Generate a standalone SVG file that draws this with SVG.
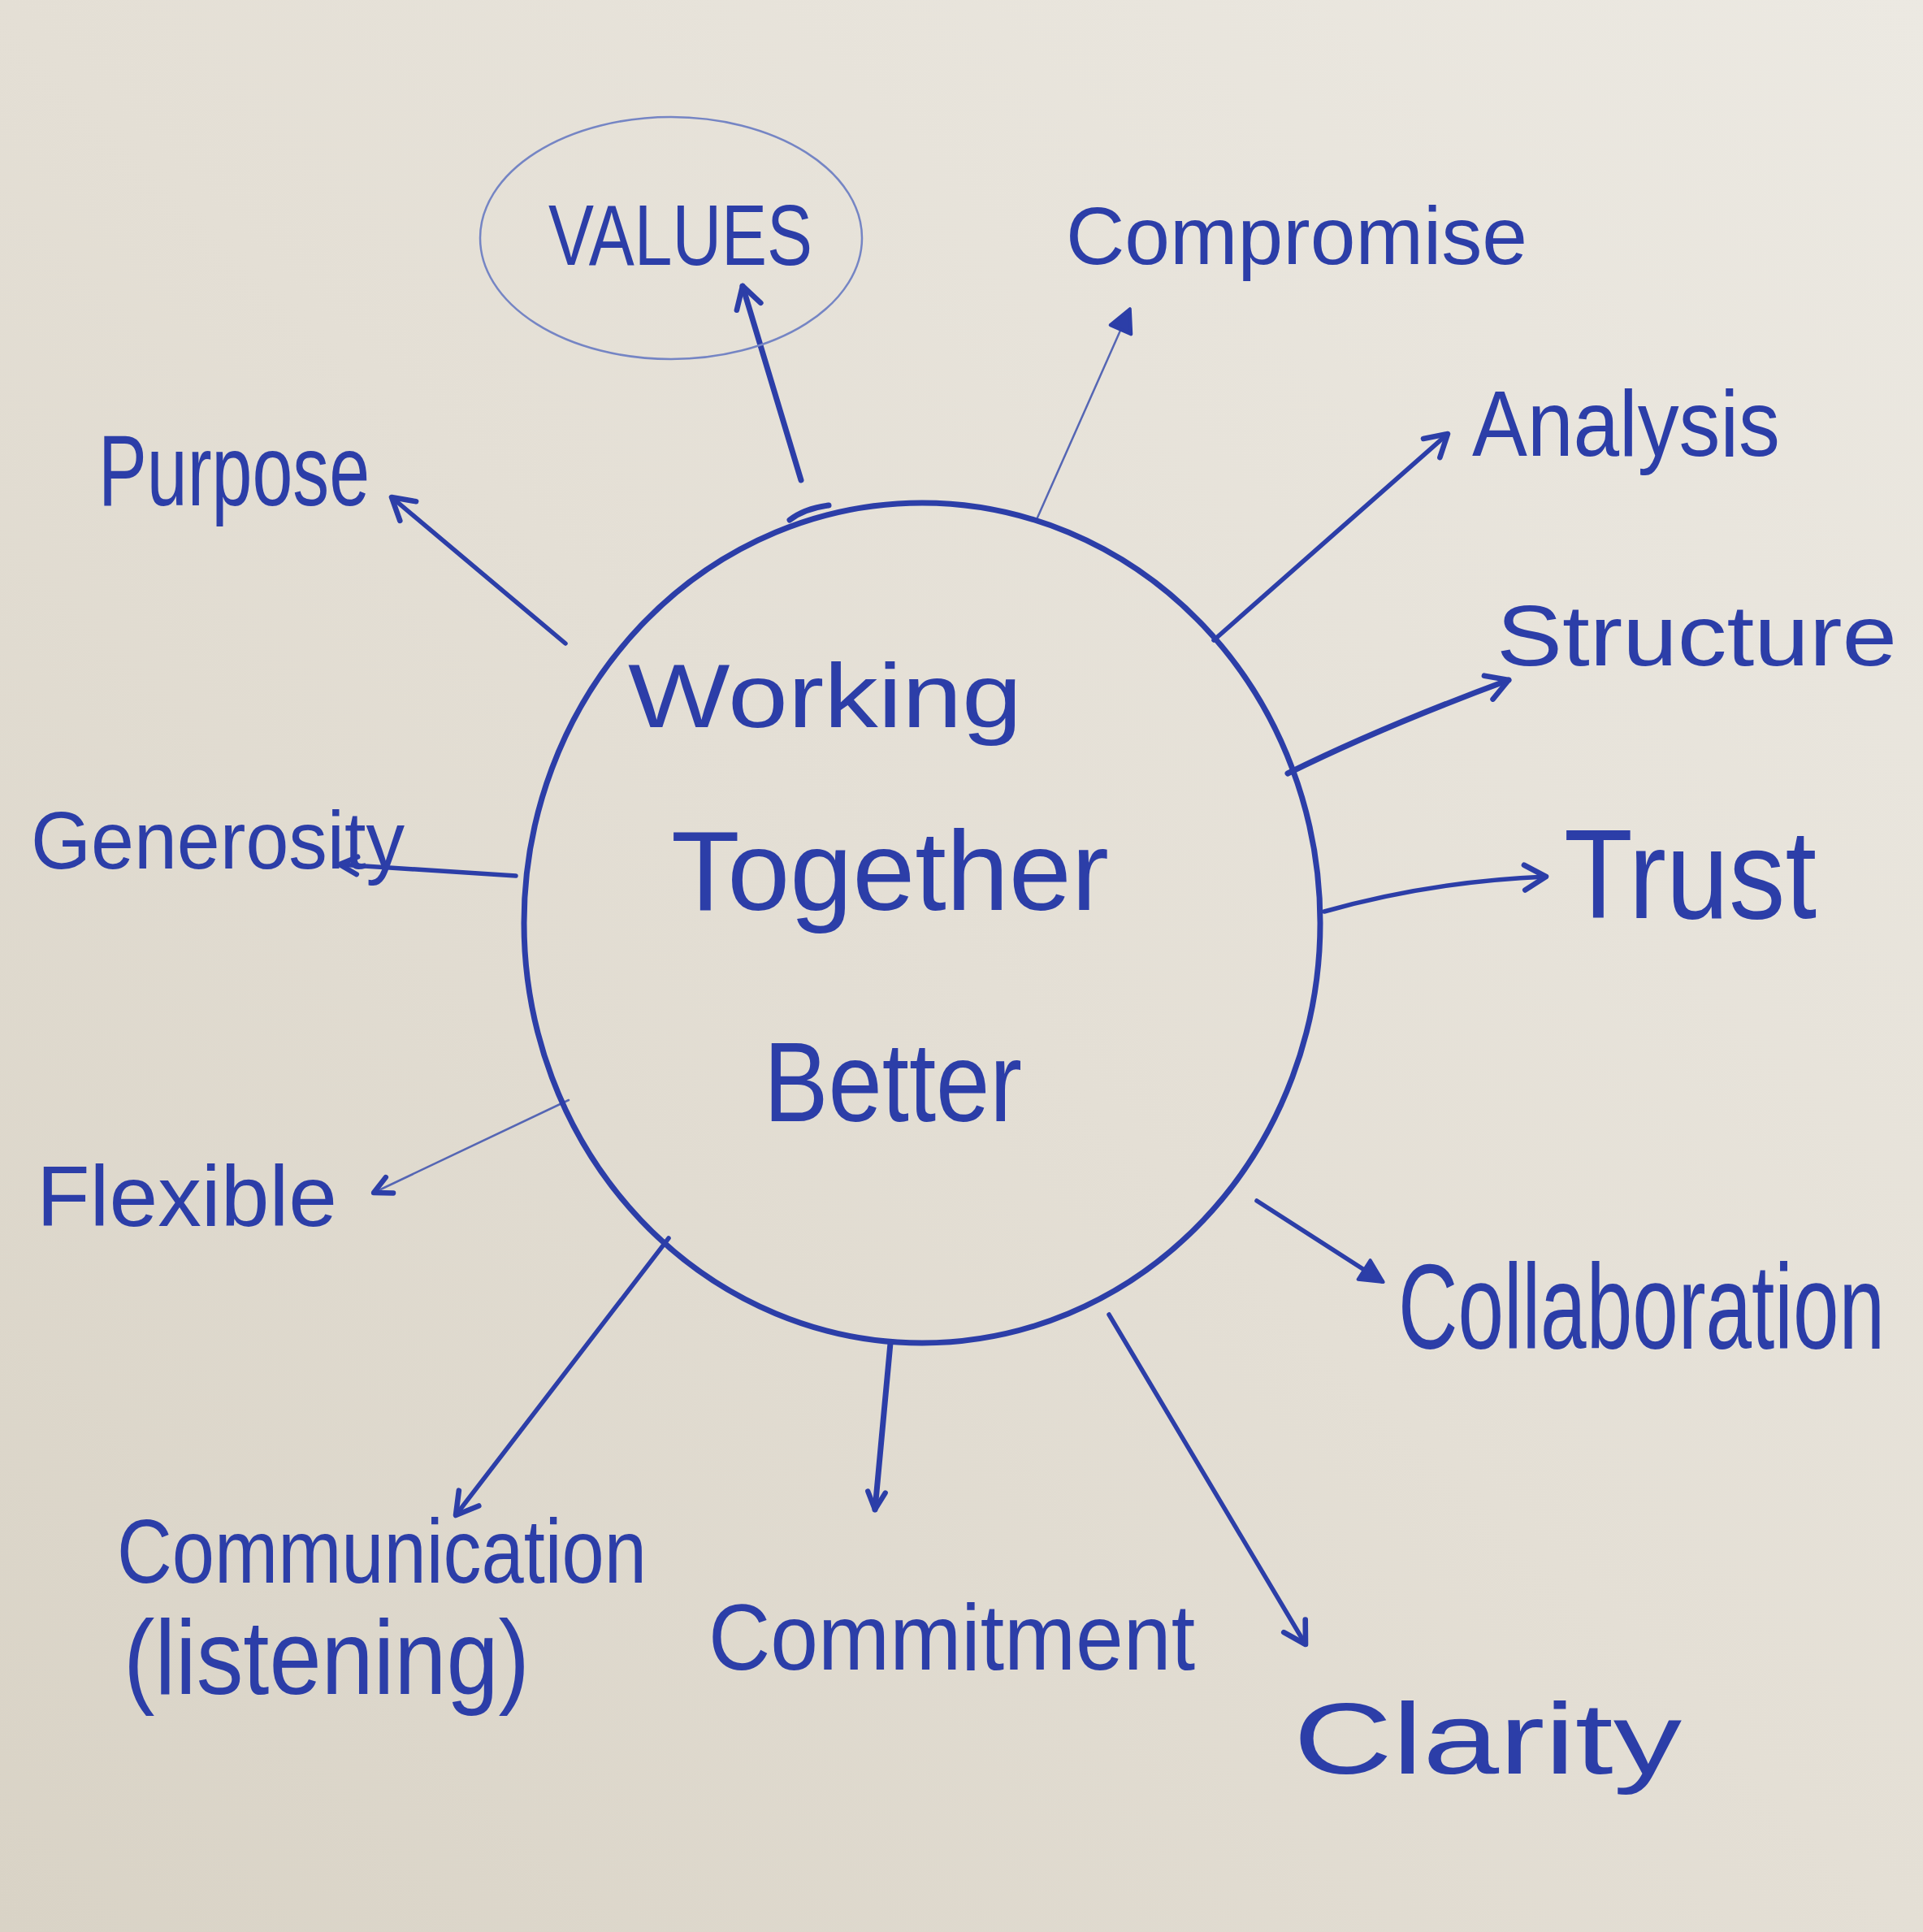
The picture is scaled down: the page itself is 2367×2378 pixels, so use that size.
<svg xmlns="http://www.w3.org/2000/svg" width="2367" height="2378" viewBox="0 0 2367 2378">
<defs>
<linearGradient id="paper" x1="1" y1="0" x2="0" y2="1">
<stop offset="0" stop-color="#ece9e2"/>
<stop offset="0.5" stop-color="#e4dfd5"/>
<stop offset="1" stop-color="#d9d3c6"/>
</linearGradient>
<marker id="head" viewBox="0 0 20 20" refX="16" refY="10" markerWidth="44" markerHeight="44" markerUnits="userSpaceOnUse" orient="auto">
<path d="M4,3 L16,10 L4,17" fill="none" stroke="#2c3ea8" stroke-width="3" stroke-linecap="round" stroke-linejoin="round"/>
</marker>
<marker id="headthin" viewBox="0 0 20 20" refX="16" refY="10" markerWidth="36" markerHeight="36" markerUnits="userSpaceOnUse" orient="auto">
<path d="M4,4 L16,10 L4,16" fill="none" stroke="#2c3ea8" stroke-width="3.5" stroke-linecap="round" stroke-linejoin="round"/>
</marker>
<marker id="headfill" viewBox="0 0 20 20" refX="16" refY="10" markerWidth="40" markerHeight="40" markerUnits="userSpaceOnUse" orient="auto">
<path d="M3,3 L17,10 L3,17 Z" fill="#2c3ea8" stroke="#2c3ea8" stroke-width="2" stroke-linejoin="round"/>
</marker>
</defs>
<style>
.ink{fill:none;stroke:#2c3ea8;stroke-linecap:round;stroke-linejoin:round}
.thick{stroke-width:7}
.mid{stroke-width:5.5}
.thin{stroke-width:2.5;stroke:#5566b4}
.lbl{fill:#2c3ea8;font-family:"Liberation Sans","DejaVu Sans",sans-serif}
</style>
<rect x="0" y="0" width="2367" height="2378" fill="url(#paper)"/>

<g id="connectors">
<path class="ink thick" d="M986,591 L914,352" marker-end="url(#head)"/>
<path class="ink thin" d="M1277,637 L1390,382" marker-end="url(#headfill)"/>
<path class="ink mid" d="M1494,788 L1782,534" marker-end="url(#head)"/>
<path class="ink thick" d="M1585,952 Q1700,895 1857,837" marker-end="url(#head)"/>
<path class="ink mid" d="M1630,1122 Q1760,1085 1903,1079" marker-end="url(#head)"/>
<path class="ink mid" d="M1547,1478 L1701,1577" marker-end="url(#headfill)"/>
<path class="ink mid" d="M1365,1618 L1607,2024" marker-end="url(#head)"/>
<path class="ink thick" d="M1096,1653 L1077,1858" marker-end="url(#headthin)"/>
<path class="ink mid" d="M823,1524 L561,1865" marker-end="url(#head)"/>
<path class="ink thin" d="M700,1354 L460,1468" marker-end="url(#headthin)"/>
<path class="ink mid" d="M635,1078 L418,1064" marker-end="url(#headthin)"/>
<path class="ink mid" d="M696,792 L482,612" marker-end="url(#head)"/>
</g>

<g id="node-center">
<ellipse class="ink thick" cx="1135" cy="1136" rx="490" ry="517"/>
<path class="ink thick" d="M972,640 Q990,626 1020,622"/>
<text class="lbl" x="773" y="895" font-size="112" textLength="485" lengthAdjust="spacingAndGlyphs">Working</text>
<text class="lbl" x="826" y="1120" font-size="140" textLength="539" lengthAdjust="spacingAndGlyphs">Together</text>
<text class="lbl" x="940" y="1380" font-size="140" textLength="318" lengthAdjust="spacingAndGlyphs">Better</text>
</g>

<g id="node-values">
<ellipse cx="826" cy="293" rx="235" ry="149" fill="none" stroke="#7585c4" stroke-width="2.5"/>
<text class="lbl" x="675" y="326" font-size="105" textLength="325" lengthAdjust="spacingAndGlyphs">VALUES</text>
</g>
<g id="node-compromise">
<text class="lbl" x="1312" y="325" font-size="100" textLength="568" lengthAdjust="spacingAndGlyphs">Compromise</text>
</g>
<g id="node-analysis">
<text class="lbl" x="1812" y="561" font-size="115" textLength="379" lengthAdjust="spacingAndGlyphs">Analysis</text>
</g>
<g id="node-structure">
<text class="lbl" x="1842" y="819" font-size="105" textLength="493" lengthAdjust="spacingAndGlyphs">Structure</text>
</g>
<g id="node-trust">
<text class="lbl" x="1925" y="1130" font-size="155" textLength="311" lengthAdjust="spacingAndGlyphs">Trust</text>
</g>
<g id="node-collaboration">
<text class="lbl" transform="translate(1721,1660) scale(1,1.38)" x="0" y="0" font-size="108" textLength="599" lengthAdjust="spacingAndGlyphs">Collaboration</text>
</g>
<g id="node-clarity">
<text class="lbl" x="1592" y="2183" font-size="125" textLength="478" lengthAdjust="spacingAndGlyphs">Clarity</text>
</g>
<g id="node-commitment">
<text class="lbl" x="872" y="2055" font-size="115" textLength="599" lengthAdjust="spacingAndGlyphs">Commitment</text>
</g>
<g id="node-communication">
<text class="lbl" x="144" y="1948" font-size="112" textLength="652" lengthAdjust="spacingAndGlyphs">Communication</text>
<text class="lbl" x="152" y="2085" font-size="130" textLength="500" lengthAdjust="spacingAndGlyphs">(listening)</text>
</g>
<g id="node-flexible">
<text class="lbl" x="45" y="1509" font-size="105" textLength="370" lengthAdjust="spacingAndGlyphs">Flexible</text>
</g>
<g id="node-generosity">
<text class="lbl" x="38" y="1069" font-size="100" textLength="460" lengthAdjust="spacingAndGlyphs">Generosity</text>
</g>
<g id="node-purpose">
<text class="lbl" x="121" y="622" font-size="125" textLength="334" lengthAdjust="spacingAndGlyphs">Purpose</text>
</g>
</svg>
